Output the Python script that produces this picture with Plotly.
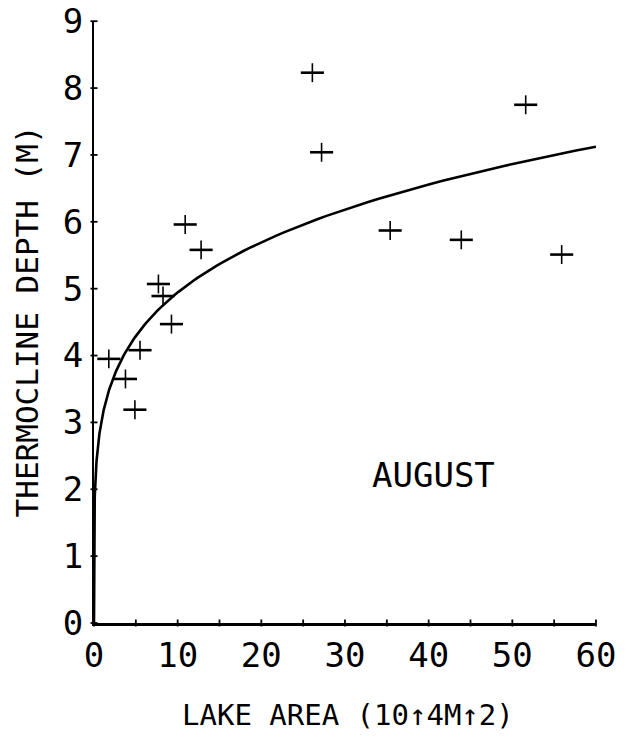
import numpy as np
import plotly.graph_objects as go

# Lake surface area (10^4 m^2) and August thermocline depth (m)
lake_area = [26.1, 27.2, 51.6, 35.4, 43.9, 55.9, 10.9, 12.8, 7.7, 8.25, 9.26, 5.5, 1.77, 3.76, 4.89]
thermocline_depth = [8.23, 7.04, 7.75, 5.87, 5.73, 5.51, 5.96, 5.58, 5.07, 4.89, 4.47, 4.08, 3.95, 3.65, 3.19]

# Axis ticks
x_tick_vals = [0, 10, 20, 30, 40, 50, 60]
x_tick_text = ["0", "10", "20", "30", "40", "50", "60"]
x_mark_vals = [0, 5, 10, 15, 20, 25, 30, 35, 40, 45, 50, 55, 60]
y_tick_vals = [0, 1, 2, 3, 4, 5, 6, 7, 8, 9]
y_tick_text = ["0", "1", "2", "3", "4", "5", "6", "7", "8", "9"]

# Power-law fit: depth = A * area^B
FIT_A = 3.09
FIT_B = 0.204

FONT = "DejaVu Sans Mono"
INK = "black"
CLEAR = "rgba(0,0,0,0)"

fit_x = np.concatenate([[0.0], np.geomspace(1e-7, 60, 500)])
fit_y = FIT_A * fit_x ** FIT_B

fig = go.Figure()

# fitted curve
fig.add_trace(go.Scatter(
    x=fit_x, y=fit_y, mode="lines",
    line=dict(color=INK, width=2.6),
    hoverinfo="skip", showlegend=False,
))

# tick marks crossing the axes
fig.add_trace(go.Scatter(
    x=x_mark_vals, y=[0] * len(x_mark_vals), mode="markers",
    marker=dict(symbol="line-ns", size=5, line=dict(color=INK, width=1.8)),
    cliponaxis=False, hoverinfo="skip", showlegend=False,
))
fig.add_trace(go.Scatter(
    x=[0] * len(y_tick_vals), y=y_tick_vals, mode="markers",
    marker=dict(symbol="line-ew", size=5, line=dict(color=INK, width=1.8)),
    cliponaxis=False, hoverinfo="skip", showlegend=False,
))

# "+" plotting symbols: heavier horizontal stroke, lighter vertical stroke
fig.add_trace(go.Scatter(
    x=lake_area, y=thermocline_depth, mode="markers",
    marker=dict(symbol="line-ew", size=16.5, line=dict(color=INK, width=2.6)),
    cliponaxis=False, showlegend=False,
))
fig.add_trace(go.Scatter(
    x=lake_area, y=thermocline_depth, mode="markers",
    marker=dict(symbol="line-ns", size=13.5, line=dict(color=INK, width=1.6)),
    cliponaxis=False, hoverinfo="skip", showlegend=False,
))

fig.update_layout(
    width=638, height=737,
    margin=dict(l=94, r=42, t=21, b=114),
    paper_bgcolor="white", plot_bgcolor="white",
    font=dict(family=FONT, color=INK),
    xaxis=dict(
        range=[0, 60.002], showgrid=False, zeroline=False, automargin=False,
        showline=True, linecolor=INK, linewidth=2.6,
        tickmode="array", tickvals=x_tick_vals, ticktext=x_tick_text,
        ticks="outside", ticklen=0, tickcolor=CLEAR,
        ticklabelstandoff=0, ticklabeloverflow="allow",
        tickfont=dict(family=FONT, size=34, color=INK),
    ),
    yaxis=dict(
        range=[0, 9.003], showgrid=False, zeroline=False, automargin=False,
        showline=True, linecolor=INK, linewidth=1.8,
        tickmode="array", tickvals=y_tick_vals, ticktext=y_tick_text,
        ticks="outside", ticklen=0, tickcolor=CLEAR,
        ticklabelstandoff=2, ticklabeloverflow="allow",
        tickfont=dict(family=FONT, size=34, color=INK),
    ),
    annotations=[
        dict(text="THERMOCLINE DEPTH (M)", xref="paper", yref="paper",
             x=-0.1335, y=0.501, xanchor="center", yanchor="middle",
             textangle=-90, showarrow=False,
             font=dict(family=FONT, size=31, color=INK)),
        dict(text="LAKE AREA (10\u21914M\u21912)", xref="paper", yref="paper",
             x=0.506, y=-0.153, xanchor="center", yanchor="middle",
             showarrow=False,
             font=dict(family=FONT, size=29, color=INK)),
        dict(text="AUGUST", xref="x", yref="y",
             x=40.6, y=2.21, xanchor="center", yanchor="middle",
             showarrow=False,
             font=dict(family=FONT, size=34, color=INK)),
    ],
)

fig.write_html("out.html")
